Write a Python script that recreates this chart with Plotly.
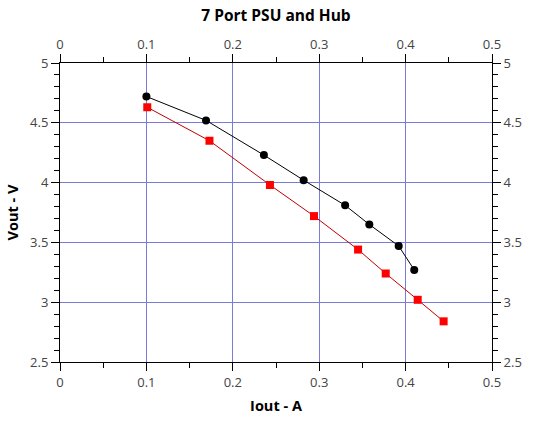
import plotly.graph_objects as go

# Output current (A) and voltage (V)
iout_black = [0.100, 0.169, 0.236, 0.282, 0.330, 0.358, 0.392, 0.410]
vout_black = [4.72, 4.52, 4.23, 4.02, 3.81, 3.65, 3.47, 3.27]

iout_red = [0.101, 0.173, 0.243, 0.294, 0.345, 0.377, 0.414, 0.444]
vout_red = [4.63, 4.35, 3.98, 3.72, 3.44, 3.24, 3.02, 2.84]

x_ticks = [0, 0.1, 0.2, 0.3, 0.4, 0.5]
y_ticks = [2.5, 3, 3.5, 4, 4.5, 5]

FONT = "Open Sans"
GRID = "#7a7ad8"

W, H = 552, 422

fig = go.Figure()

fig.add_trace(go.Scatter(
    x=iout_black, y=vout_black, mode="lines+markers",
    line=dict(color="black", width=1),
    marker=dict(symbol="circle", size=8, color="black"),
    showlegend=False,
))
fig.add_trace(go.Scatter(
    x=iout_red, y=vout_red, mode="lines+markers",
    line=dict(color="#c00000", width=1),
    marker=dict(symbol="square", size=8, color="#ff0000"),
    showlegend=False,
))
# invisible trace so the top / right axes get drawn
fig.add_trace(go.Scatter(
    x=iout_red, y=vout_red, mode="none", xaxis="x2", yaxis="y2",
    showlegend=False, hoverinfo="skip",
))

common_x = dict(
    range=[0, 0.5], tickvals=x_ticks, ticktext=[f"{v:g}" for v in x_ticks],
    ticks="outside", ticklen=8, tickcolor="black", linecolor="black",
    linewidth=1, showline=True, zeroline=False, automargin=False,
    tickfont=dict(family=FONT, size=13, color="#444"),
    minor=dict(dtick=0.05, ticks="outside", ticklen=5, tickcolor="black", showgrid=False),
)
common_y = dict(
    range=[2.5, 5], tickvals=y_ticks, ticktext=[f"{v:g}" for v in y_ticks],
    ticks="outside", ticklen=8, tickcolor="black", linecolor="black",
    linewidth=1, showline=True, zeroline=False, automargin=False,
    tickfont=dict(family=FONT, size=13, color="#444"),
    minor=dict(dtick=0.1, ticks="outside", ticklen=5, tickcolor="black", showgrid=False),
)

fig.update_layout(
    width=W, height=H,
    margin=dict(l=60, r=60, t=63, b=60, autoexpand=False),
    paper_bgcolor="white", plot_bgcolor="white",
    title=dict(text="<b>7 Port PSU and Hub</b>", x=0.5, xref="paper",
               y=1 - 16 / H, yref="container", yanchor="middle",
               font=dict(family=FONT, size=15.5, color="black")),
    xaxis=dict(**common_x, showgrid=True, gridcolor=GRID, gridwidth=1,
               title=dict(text="<b>Iout - A</b>", font=dict(family=FONT, size=14.5, color="black"),
                          standoff=11)),
    yaxis=dict(**common_y, showgrid=True, gridcolor=GRID, gridwidth=1,
               title=dict(text="<b>Vout - V</b>", font=dict(family=FONT, size=14.5, color="black"),
                          standoff=8)),
    xaxis2=dict(**common_x, overlaying="x", side="top", anchor="y", showgrid=False),
    yaxis2=dict(**common_y, overlaying="y", side="right", anchor="x", showgrid=False),
)

# drop the default 8px page margin so the figure fills the window
fig.write_html("out.html", config={"displayModeBar": False},
               post_script="document.body.style.margin = '0';")
